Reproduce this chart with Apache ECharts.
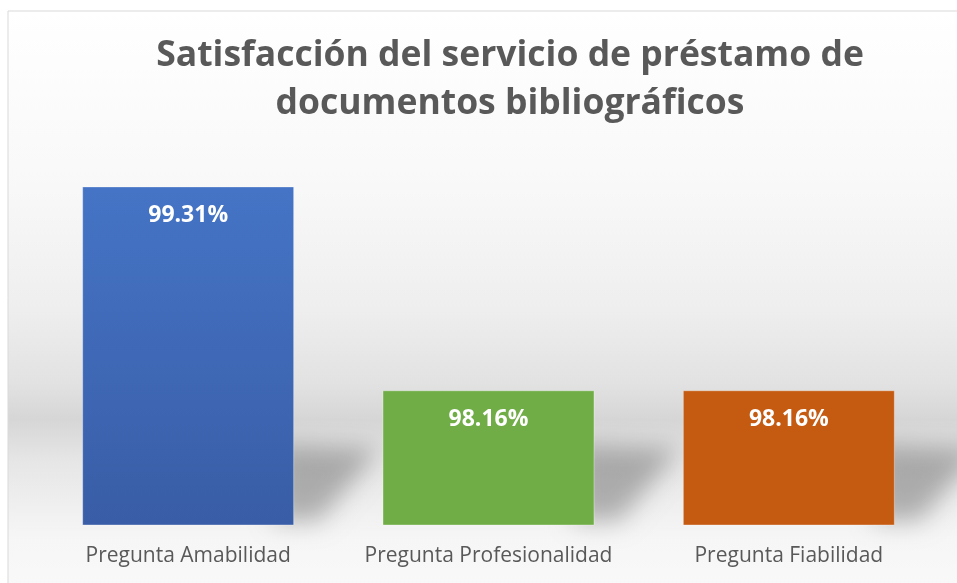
<!DOCTYPE html>
<html>
<head>
<meta charset="utf-8">
<script src="https://cdn.jsdelivr.net/npm/echarts@6/dist/echarts.min.js"></script>
<style>
  html, body { margin: 0; padding: 0; background: #fff; }
  #main { width: 957px; height: 583px; }
</style>
</head>
<body>
<div id="main"></div>
<script>
var chartDom = document.getElementById('main');
var myChart = echarts.init(chartDom);

// data
var categories = ['Pregunta Amabilidad', 'Pregunta Profesionalidad', 'Pregunta Fiabilidad'];
var values = [99.31, 98.16, 98.16];
var barColors = [
  ['#4574c6', '#395da6'],
  ['#70ad47', '#70ad47'],
  ['#c55a11', '#c55a11']
];

var FAR = 3000; // shadow source is drawn off-screen, only its blur shows

var option = {
  animation: false,
  graphic: [
    {
      type: 'rect',
      z: -10,
      shape: { x: 8, y: 11, width: 1000, height: 600 },
      style: {
        stroke: '#d9d9d9',
        lineWidth: 1,
        fill: new echarts.graphic.LinearGradient(0, 0, 0, 1, [
          { offset: 0, color: '#ffffff' },
          { offset: 0.3, color: '#f8f8f8' },
          { offset: 0.5, color: '#eeeeee' },
          { offset: 0.62, color: '#e2e2e2' },
          { offset: 0.68, color: '#d6d6d6' },
          { offset: 0.75, color: '#e6e6e6' },
          { offset: 0.88, color: '#f6f6f6' },
          { offset: 1, color: '#fafafa' }
        ])
      }
    }
  ],
  title: {
    left: 505,
    top: 27,
    textAlign: 'center',
    text: 'Satisfacción del servicio de préstamo de\ndocumentos bibliográficos',
    textStyle: {
      fontFamily: 'Open Sans',
      fontSize: 35.5,
      fontWeight: 'bold',
      color: '#595959',
      lineHeight: 48
    }
  },
  grid: { left: 38, right: 18, top: 135, bottom: 58 },
  xAxis: {
    type: 'category',
    data: categories,
    axisLine: { show: false },
    axisTick: { show: false },
    axisLabel: {
      interval: 0,
      hideOverlap: false,
      margin: 21,
      fontFamily: 'Open Sans',
      fontSize: 21,
      color: '#595959'
    }
  },
  yAxis: {
    type: 'value',
    min: 97.4,
    max: 99.6,
    interval: 0.2,
    show: false
  },
  series: [
    {
      // perspective shadow behind each bar
      type: 'custom',
      z: 1,
      silent: true,
      renderItem: function (params, api) {
        var base = api.coord([api.value(0), 97.4]);
        var x1 = base[0] + 106;
        var yb = base[1];
        return {
          type: 'polygon',
          shape: {
            points: [
              [x1 - 20, yb - 80 + FAR],
              [x1 + 85, yb - 76 + FAR],
              [x1 + 25, yb - 4 + FAR],
              [x1 - 20, yb - 4 + FAR]
            ]
          },
          style: {
            fill: '#000',
            shadowBlur: 24,
            shadowOffsetY: -FAR,
            shadowColor: 'rgba(0,0,0,0.27)'
          }
        };
      },
      data: categories.map(function (c, i) { return [i]; })
    },
    {
      type: 'bar',
      z: 2,
      barWidth: 212,
      data: values.map(function (v, i) {
        return {
          value: v,
          itemStyle: {
            color: new echarts.graphic.LinearGradient(0, 0, 0, 1, [
              { offset: 0, color: barColors[i][0] },
              { offset: 1, color: barColors[i][1] }
            ]),
            borderColor: 'rgba(255,255,255,0.35)',
            borderWidth: 1
          }
        };
      }),
      label: {
        show: true,
        position: 'insideTop',
        distance: 18,
        formatter: function (p) { return p.value.toFixed(2) + '%'; },
        fontFamily: 'Open Sans',
        fontSize: 23,
        fontWeight: 'bold',
        color: '#ffffff'
      }
    }
  ]
};

option && myChart.setOption(option);
</script>
</body>
</html>
